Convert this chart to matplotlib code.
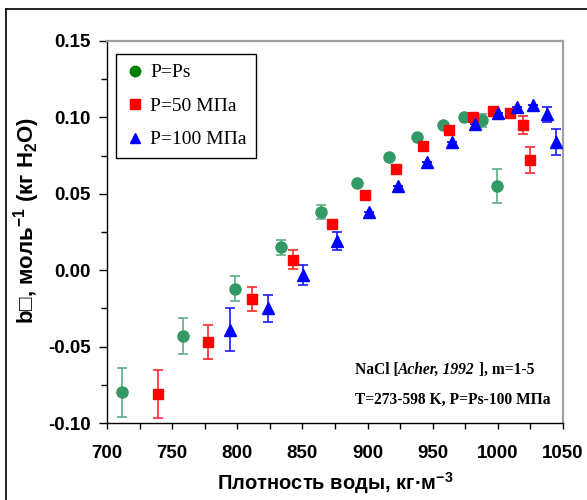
import matplotlib
matplotlib.use("Agg")
import matplotlib.pyplot as plt
from matplotlib.lines import Line2D
from matplotlib.ticker import MultipleLocator, FormatStrFormatter

plt.rcParams["mathtext.fontset"] = "custom"
plt.rcParams["mathtext.rm"] = "Liberation Sans:bold"
plt.rcParams["mathtext.bf"] = "Liberation Sans:bold"

# P = Ps
ps_rho = [711.5, 758.3, 798.2, 833.5, 864.2, 891.6, 916.4, 938.2, 957.9, 974.0, 987.6, 999.3]
ps_b = [-0.080, -0.043, -0.012, 0.015, 0.038, 0.057, 0.074, 0.087, 0.095, 0.100, 0.098, 0.055]
ps_err = [0.016, 0.012, 0.008, 0.005, 0.0045, 0.0, 0.0, 0.0, 0.0, 0.0, 0.004, 0.011]

# P = 50 MPa
p50_rho = [739.4, 777.3, 811.5, 842.5, 872.4, 898.0, 921.8, 942.5, 962.5, 980.7, 996.0, 1009.3, 1019.0, 1024.6]
p50_b = [-0.081, -0.047, -0.019, 0.007, 0.030, 0.049, 0.066, 0.081, 0.092, 0.100, 0.104, 0.103, 0.095, 0.072]
p50_err = [0.016, 0.011, 0.0077, 0.006, 0.0, 0.0, 0.0, 0.0, 0.0, 0.0, 0.0, 0.0, 0.006, 0.0086]

# P = 100 MPa
p100_rho = [794.4, 823.8, 850.7, 876.3, 901.0, 923.6, 945.3, 965.0, 982.4, 999.8, 1014.9, 1027.0, 1037.9, 1044.6]
p100_b = [-0.039, -0.025, -0.003, 0.019, 0.038, 0.055, 0.071, 0.084, 0.096, 0.103, 0.107, 0.108, 0.102, 0.084]
p100_err = [0.014, 0.0087, 0.0065, 0.006, 0.0, 0.0, 0.0, 0.0, 0.0, 0.0, 0.0, 0.0, 0.005, 0.0087]

W, H = 587, 500
fig = plt.figure(figsize=(W / 100, H / 100), dpi=100, facecolor="white")
ax = fig.add_axes([107 / W, 1 - 423 / H, 456 / W, 382 / H])

# outer frame (left and top edges visible)
fig.add_artist(Line2D([6 / W, 6 / W], [0, 1 - 9 / H], color="black", lw=1.2))
fig.add_artist(Line2D([6 / W, 1], [1 - 9 / H, 1 - 9 / H], color="black", lw=1.2))

series = [
    (ps_rho, ps_b, ps_err, "o", "#339966", "#5cae84", 8),
    (p50_rho, p50_b, p50_err, "s", "#ff0000", "#ff2a2a", 7.2),
    (p100_rho, p100_b, p100_err, "^", "#0000ff", "#1a1aff", 8.5),
]
for x, y, e, m, c, ec, ms in series:
    ax.errorbar(x, y, yerr=e, fmt=m, color=c, ecolor=ec, ms=ms, mec=c,
                elinewidth=1.2, capsize=3.3, capthick=1.2, zorder=3)

ax.set_xlim(700, 1050)
ax.set_ylim(-0.10, 0.15)
ax.xaxis.set_major_locator(MultipleLocator(50))
ax.xaxis.set_minor_locator(MultipleLocator(25))
ax.yaxis.set_major_locator(MultipleLocator(0.05))
ax.yaxis.set_minor_locator(MultipleLocator(0.025))
ax.yaxis.set_major_formatter(FormatStrFormatter("%.2f"))

ax.tick_params(which="both", direction="out", color="black", width=1.0)
ax.tick_params(axis="y", which="major", length=5.5, pad=6)
ax.tick_params(axis="y", which="minor", length=4)
ax.tick_params(axis="x", which="major", length=4.5, pad=11.5)
ax.tick_params(axis="x", which="minor", length=4.5)
for lab in ax.get_xticklabels() + ax.get_yticklabels():
    lab.set_fontfamily("Liberation Sans")
    lab.set_fontweight("bold")
    lab.set_fontsize(13.5)

for s in ("left", "bottom"):
    ax.spines[s].set_color("black")
    ax.spines[s].set_linewidth(1.0)
for s in ("top", "right"):
    ax.spines[s].set_color("#a0a0a0")
    ax.spines[s].set_linewidth(1.6)

ax.set_xlabel("Плотность воды, кг·м$^{-3}$", family=["Liberation Sans", "DejaVu Sans"],
              fontweight="bold", fontsize=14.5)
ax.xaxis.set_label_coords(0.5, -0.124)
ax.set_ylabel("b\u25a1, моль$^{-1}$ (кг H$_2$O)", family=["Liberation Sans", "DejaVu Sans"],
              fontweight="bold", fontsize=16)
ax.yaxis.set_label_coords(-0.142, 0.53)

handles = [
    Line2D([0], [0], ls="none", marker="o", color="#008000", ms=7.5, label="P=Ps"),
    Line2D([0], [0], ls="none", marker="s", color="#ff0000", ms=6.5, label="P=50 МПа"),
    Line2D([0], [0], ls="none", marker="^", color="#0000ff", ms=7.5, label="P=100 МПа"),
]
leg = ax.legend(handles=handles, loc="upper left", bbox_to_anchor=(9 / 456, 1 - 13 / 382),
                borderaxespad=0, prop={"family": "Liberation Serif", "size": 14},
                frameon=True, fancybox=False, edgecolor="black", framealpha=1,
                handlelength=0.95, handletextpad=0.3, labelspacing=0.82, borderpad=0.5)
leg.get_frame().set_linewidth(1.0)

# annotation: bold Times with an italic citation in the middle
note = dict(family="Liberation Serif", fontweight="bold", fontsize=11.2)
t1 = ax.text(0.543, 0.139, "NaCl [", transform=ax.transAxes, va="center", ha="left", **note)
t2 = ax.annotate("Acher, 1992", xy=(1, 0), xycoords=t1, va="bottom", ha="left",
                 fontstyle="italic", **note)
ax.annotate(" ], m=1-5", xy=(1, 0), xycoords=t2, va="bottom", ha="left", **note)
ax.text(0.543, 0.060, "T=273-598 K, P=Ps-100 МПа", transform=ax.transAxes,
        va="center", ha="left", **note)

fig.savefig("out.png", dpi=100, facecolor="white")
